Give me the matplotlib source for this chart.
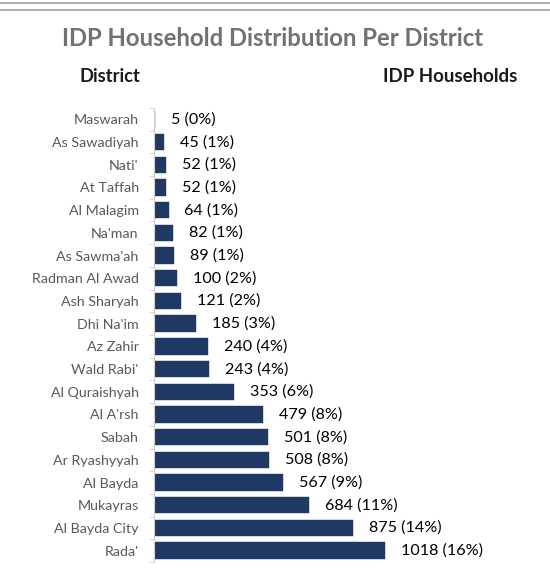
import matplotlib
matplotlib.use("Agg")
import matplotlib.pyplot as plt
from matplotlib.lines import Line2D
import numpy as np

districts = ["Maswarah", "As Sawadiyah", "Nati'", "At Taffah", "Al Malagim", "Na'man",
             "As Sawma'ah", "Radman Al Awad", "Ash Sharyah", "Dhi Na'im", "Az Zahir",
             "Wald Rabi'", "Al Quraishyah", "Al A'rsh", "Sabah", "Ar Ryashyyah",
             "Al Bayda", "Mukayras", "Al Bayda City", "Rada'"]
households = [5, 45, 52, 52, 64, 82, 89, 100, 121, 185, 240, 243, 353, 479, 501, 508,
              567, 684, 875, 1018]
percents = [0, 1, 1, 1, 1, 1, 1, 2, 2, 3, 4, 4, 6, 8, 8, 8, 9, 11, 14, 16]

plt.rcParams['font.family'] = ['Lato', 'DejaVu Sans']

fig = plt.figure(figsize=(5.5, 5.73), dpi=100)
ax = fig.add_axes([154 / 550, 1 - 562 / 573, 1650 * 0.2269 / 550, 454 / 573])

y = np.arange(len(districts))
ax.barh(y, households, height=0.72, color="#203864", edgecolor="#203864", linewidth=0.3)
ax.set_xlim(0, 1650)
ax.set_ylim(len(districts) - 0.5, -0.5)

for yi, v, p in zip(y, households, percents):
    ax.annotate(f"{v} ({p}%)", (v, yi), xytext=(11.5, 0), textcoords="offset points",
                va="center", ha="left", fontsize=11.6, color="#000000")

for s in ["top", "right", "bottom"]:
    ax.spines[s].set_visible(False)
ax.spines["left"].set_color("#d0d0d0")
ax.set_xticks([])
ax.set_yticks(y)
ax.set_yticklabels(districts, fontsize=10.3, color="#595959")
ax.tick_params(axis="y", which="major", length=0, pad=11)
ax.set_yticks(np.arange(-0.5, len(districts)), minor=True)
ax.tick_params(axis="y", which="minor", length=3.5, color="#d0d0d0")

fig.text(272 / 550, 1 - 38 / 573, "IDP Household Distribution Per District",
         ha="center", va="center", fontsize=17.2, fontweight="bold", color="#767171")
fig.text(110 / 550, 1 - 77 / 573, "District", ha="center", va="center",
         fontsize=13.2, fontweight="bold", color="#1a1a1a")
fig.text(450 / 550, 1 - 77 / 573, "IDP Households", ha="center", va="center",
         fontsize=13.5, fontweight="bold", color="#1a1a1a")

for yy in [3, 9.5]:
    fig.add_artist(Line2D([0, 1], [1 - yy / 573] * 2, color="#a0a0a0", linewidth=1.2,
                          transform=fig.transFigure))

fig.savefig("out.png", dpi=100)
